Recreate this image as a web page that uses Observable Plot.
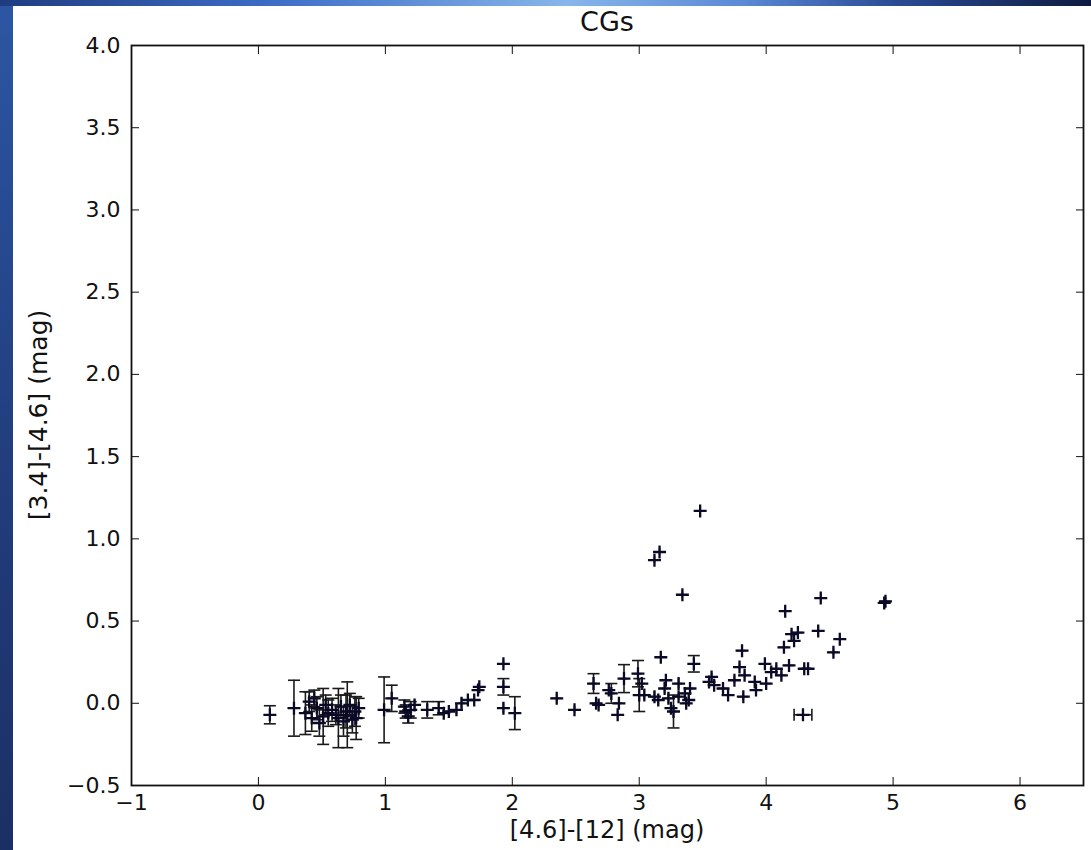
<!DOCTYPE html>
<html>
<head>
<meta charset="utf-8">
<script src="https://cdn.jsdelivr.net/npm/d3@7"></script>
<script src="https://cdn.jsdelivr.net/npm/@observablehq/plot@0.6"></script>
<style>
  html, body { margin: 0; padding: 0; }
  body {
    width: 1091px; height: 850px; overflow: hidden; position: relative;
    background: linear-gradient(to bottom, #2c56a4 0%, #223f80 50%, #1b2f64 100%);
    font-family: "DejaVu Sans", sans-serif;
  }
  #topstrip {
    position: absolute; left: 0; top: 0; width: 1091px; height: 6px;
    background: linear-gradient(to right, #1f3c80 0%, #3d6cc6 25%, #86b6ea 52%, #5b8ad6 68%, #2a4b95 82%, #0d1a40 100%);
  }
  #panel { position: absolute; left: 13px; top: 6px; width: 1078px; height: 844px; background: #fff; }
  #chart { position: absolute; left: 0; top: 0; }
  .lbl { position: absolute; color: #111; white-space: nowrap; font-family: "DejaVu Sans", sans-serif; }
  #title { left: 607px; top: 6px; transform: translateX(-50%); font-size: 27px; }
  #xlabel { left: 607px; top: 816px; transform: translateX(-50%); font-size: 24px; }
  #ylabel { left: 38px; top: 415px; transform: translate(-50%, -50%) rotate(-90deg); font-size: 25px; }
</style>
</head>
<body>
<div id="topstrip"></div>
<div id="panel"></div>
<div id="chart"></div>
<div class="lbl" id="title">CGs</div>
<div class="lbl" id="xlabel">[4.6]-[12] (mag)</div>
<div class="lbl" id="ylabel">[3.4]-[4.6] (mag)</div>
<script>
// ---- data ----
const xs = [
  0.09, 0.28, 0.37, 0.40, 0.42, 0.44, 0.46, 0.48, 0.51, 0.53, 0.55, 0.58, 0.61, 0.63, 0.65, 0.67, 0.69, 0.70, 0.72, 0.74, 0.76, 0.77, 0.79,
  0.99, 1.05, 1.15, 1.16, 1.18, 1.20, 1.23, 1.33, 1.42, 1.46, 1.50, 1.56, 1.60, 1.65, 1.70, 1.73, 1.74, 1.93, 1.93, 1.93, 2.02,
  2.35, 2.49, 2.64, 2.66, 2.68, 2.76, 2.78, 2.83, 2.84, 2.88, 2.99, 3.00, 3.02, 3.04, 3.12, 3.15, 3.17, 3.20, 3.21, 3.23, 3.25, 3.27,
  3.31, 3.31, 3.36, 3.37, 3.39, 3.40, 3.43, 3.12, 3.16, 3.34, 3.48,
  3.55, 3.57, 3.59, 3.66, 3.70, 3.75, 3.79, 3.81, 3.82, 3.83, 3.91, 3.92, 3.99, 4.00, 4.04, 4.08, 4.12, 4.14, 4.15, 4.18, 4.20, 4.22,
  4.25, 4.29, 4.30, 4.33, 4.41, 4.43, 4.53, 4.58, 4.93, 4.94
];
const ys = [
  -0.07, -0.03, -0.06, 0.01, -0.09, 0.03, -0.03, -0.12, -0.08, -0.01, -0.06, -0.04, -0.07, -0.09, -0.02, -0.11, -0.05, -0.07, -0.01, -0.10, -0.05, -0.09, -0.03,
  -0.04, 0.03, -0.02, -0.05, -0.08, -0.04, -0.01, -0.04, -0.03, -0.06, -0.05, -0.04, 0.00, 0.02, 0.02, 0.08, 0.10, 0.24, 0.10, -0.03, -0.06,
  0.03, -0.04, 0.12, 0.00, -0.01, 0.08, 0.06, -0.07, 0.00, 0.15, 0.18, 0.05, 0.12, 0.05, 0.04, 0.02, 0.28, 0.09, 0.14, 0.03, -0.03, -0.05,
  0.12, 0.04, 0.06, 0.00, 0.02, 0.09, 0.24, 0.87, 0.92, 0.66, 1.17,
  0.13, 0.16, 0.11, 0.09, 0.05, 0.14, 0.22, 0.32, 0.04, 0.17, 0.13, 0.08, 0.24, 0.12, 0.19, 0.21, 0.17, 0.34, 0.56, 0.23, 0.42, 0.38,
  0.43, -0.07, 0.21, 0.21, 0.44, 0.64, 0.31, 0.39, 0.61, 0.62
];
const yErr = [
  0.055, 0.17, 0.13, 0.06, 0.08, 0.05, 0.07, 0.08, 0.17, 0.06, 0.08, 0.07, 0.06, 0.18, 0.07, 0.09, 0.10, 0.20, 0.07, 0.08, 0.09, 0.13, 0.06,
  0.20, 0.08, 0.04, 0.04, 0.04, 0.05, 0.03, 0.05, 0.04, 0.03, 0.03, 0.03, 0.03, 0.02, 0.02, 0.02, 0.02, 0.02, 0.05, 0.03, 0.10,
  0.02, 0.02, 0.06, 0.02, 0.02, 0.03, 0.06, 0.02, 0.02, 0.085, 0.08, 0.10, 0.03, 0.03, 0.03, 0.03, 0.02, 0.03, 0.03, 0.03, 0.03, 0.10,
  0.03, 0.02, 0.02, 0.02, 0.02, 0.02, 0.05, 0.02, 0.02, 0.02, 0.02,
  0.02, 0.02, 0.02, 0.02, 0.02, 0.02, 0.02, 0.02, 0.02, 0.02, 0.02, 0.02, 0.02, 0.02, 0.02, 0.02, 0.02, 0.02, 0.02, 0.02, 0.02, 0.02,
  0.02, 0.02, 0.02, 0.02, 0.02, 0.02, 0.02, 0.02, 0.02, 0.02
];
const xErr = [
  0.03, 0.04, 0.03, 0.03, 0.03, 0.03, 0.03, 0.03, 0.03, 0.03, 0.03, 0.03, 0.03, 0.03, 0.03, 0.03, 0.03, 0.03, 0.03, 0.03, 0.03, 0.03, 0.03,
  0.03, 0.03, 0.03, 0.03, 0.03, 0.03, 0.03, 0.03, 0.03, 0.03, 0.03, 0.03, 0.03, 0.03, 0.03, 0.03, 0.03, 0.04, 0.03, 0.03, 0.03,
  0.04, 0.04, 0.03, 0.03, 0.03, 0.03, 0.03, 0.03, 0.03, 0.03, 0.03, 0.03, 0.03, 0.03, 0.03, 0.03, 0.04, 0.03, 0.03, 0.03, 0.03, 0.03,
  0.03, 0.03, 0.03, 0.03, 0.03, 0.03, 0.03, 0.04, 0.04, 0.04, 0.04,
  0.04, 0.04, 0.04, 0.04, 0.04, 0.04, 0.04, 0.04, 0.04, 0.04, 0.04, 0.04, 0.04, 0.04, 0.04, 0.04, 0.04, 0.04, 0.04, 0.04, 0.04, 0.04,
  0.04, 0.07, 0.04, 0.04, 0.04, 0.04, 0.04, 0.04, 0.04, 0.04
];
const xTicks = [-1, 0, 1, 2, 3, 4, 5, 6];
const yTicks = [-0.5, 0.0, 0.5, 1.0, 1.5, 2.0, 2.5, 3.0, 3.5, 4.0];

const pts = xs.map((x, i) => ({x, y: ys[i], ye: yErr[i], xe: xErr[i]}));

const rad = (size) => Math.sqrt(size / Math.PI);
const cross = {draw(ctx, size) { const r = rad(size); ctx.moveTo(-r, 0); ctx.lineTo(r, 0); ctx.moveTo(0, -r); ctx.lineTo(0, r); }};
const hcap = {draw(ctx, size) { const r = rad(size); ctx.moveTo(-r, 0); ctx.lineTo(r, 0); }};
const vcap = {draw(ctx, size) { const r = rad(size); ctx.moveTo(0, -r); ctx.lineTo(0, r); }};

const ink = "#111";
const chart = Plot.plot({
  width: 1091,
  height: 850,
  marginLeft: 131,
  marginRight: 8,
  marginTop: 45,
  marginBottom: 65,
  style: {background: "transparent", fontFamily: "DejaVu Sans", fontSize: "22px", color: ink, overflow: "visible"},
  x: {domain: [-1, 6.5], label: null},
  y: {domain: [-0.5, 4], label: null},
  marks: [
    Plot.ruleX(pts, {x: "x", y1: d => d.y - d.ye, y2: d => d.y + d.ye, stroke: "#1a1a1a", strokeWidth: 1.6}),
    Plot.dot(pts, {filter: d => d.ye > 0.03, x: "x", y: d => d.y + d.ye, symbol: hcap, r: 6, fill: "none", stroke: "#1a1a1a", strokeWidth: 1.6}),
    Plot.dot(pts, {filter: d => d.ye > 0.03, x: "x", y: d => d.y - d.ye, symbol: hcap, r: 6, fill: "none", stroke: "#1a1a1a", strokeWidth: 1.6}),
    Plot.ruleY(pts, {y: "y", x1: d => d.x - d.xe, x2: d => d.x + d.xe, stroke: "#1a1a1a", strokeWidth: 1.6}),
    Plot.dot(pts, {filter: d => d.xe > 0.05, x: d => d.x - d.xe, y: "y", symbol: vcap, r: 6, fill: "none", stroke: "#1a1a1a", strokeWidth: 1.6}),
    Plot.dot(pts, {filter: d => d.xe > 0.05, x: d => d.x + d.xe, y: "y", symbol: vcap, r: 6, fill: "none", stroke: "#1a1a1a", strokeWidth: 1.6}),
    Plot.dot(pts, {x: "x", y: "y", symbol: cross, r: 6.5, fill: "none", stroke: "#0a0a26", strokeWidth: 2.3}),
    Plot.frame({stroke: ink, strokeWidth: 1.8}),
    Plot.axisX(xTicks, {anchor: "bottom", tickSize: -8, tickPadding: 17, tickFormat: d3.format("d"), label: null, fontSize: 22, stroke: ink}),
    Plot.axisX(xTicks, {anchor: "top", tickSize: -8, tickFormat: () => "", label: null, stroke: ink}),
    Plot.axisY(yTicks, {anchor: "left", tickSize: -8, tickPadding: 19, tickFormat: d3.format(".1f"), label: null, fontSize: 22, stroke: ink}),
    Plot.axisY(yTicks, {anchor: "right", tickSize: -8, tickFormat: () => "", label: null, stroke: ink})
  ]
});
document.getElementById("chart").appendChild(chart);
</script>
</body>
</html>
